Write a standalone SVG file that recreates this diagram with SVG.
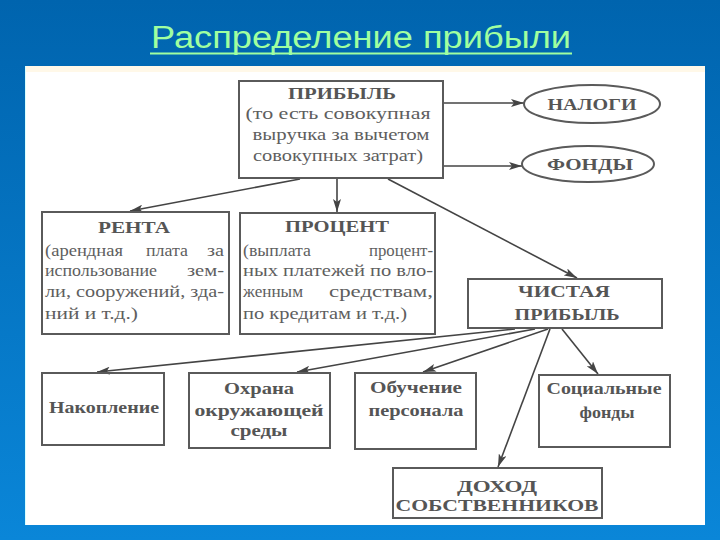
<svg xmlns="http://www.w3.org/2000/svg" width="720" height="540" viewBox="0 0 720 540">
<defs>
<linearGradient id="bg" x1="0" y1="0" x2="0" y2="1">
<stop offset="0" stop-color="#0064AE"/>
<stop offset="1" stop-color="#0A86D8"/>
</linearGradient>
<marker id="ah" markerWidth="13" markerHeight="8" refX="13" refY="4" orient="auto" markerUnits="userSpaceOnUse">
<path d="M0,0 L13,4 L0,8 L3,4 z" fill="#444"/>
</marker>
<style>
.box{fill:none;stroke:#5a5a5a;stroke-width:2}
.el{fill:none;stroke:#5a5a5a;stroke-width:2}
.h{font-family:"Liberation Serif","DejaVu Serif",serif;font-weight:bold;fill:#555;text-anchor:middle;font-size:16px}
.b{font-family:"Liberation Serif","DejaVu Serif",serif;font-weight:bold;fill:#555;text-anchor:middle;font-size:17px}
.t{font-family:"Liberation Serif","DejaVu Serif",serif;fill:#5e5e5e;font-size:16px}
.tm{text-anchor:middle}
.te{text-anchor:end}
.c{fill:none;stroke:#444;stroke-width:1.6;marker-end:url(#ah)}
</style>
</defs>
<rect x="0" y="0" width="720" height="540" fill="url(#bg)"/>
<text x="361" y="48" text-anchor="middle" font-family="Liberation Sans, Arial, sans-serif" font-size="31" fill="#A0FFA0" textLength="420" lengthAdjust="spacingAndGlyphs">Распределение прибыли</text>
<line x1="150" y1="53.5" x2="572" y2="53.5" stroke="#A0FFA0" stroke-width="2"/>
<rect x="25" y="66" width="680" height="459" fill="#FFFFFF"/>
<rect x="25" y="66" width="680" height="6" fill="#FFF8E8"/>
<line x1="25.5" y1="66" x2="25.5" y2="525" stroke="#D8FFFF" stroke-width="1"/>

<g id="connectors">
<line class="c" x1="443" y1="103" x2="524" y2="103"/>
<line class="c" x1="443" y1="166" x2="522" y2="166"/>
<line class="c" x1="300" y1="179" x2="130" y2="211"/>
<line class="c" x1="337" y1="179" x2="337" y2="212"/>
<line class="c" x1="388" y1="179" x2="577" y2="278"/>
<line class="c" x1="515" y1="329" x2="97" y2="372"/>
<line class="c" x1="535" y1="329" x2="297" y2="372"/>
<line class="c" x1="548" y1="329" x2="423" y2="372"/>
<line class="c" x1="550" y1="329" x2="498" y2="467"/>
<line class="c" x1="562" y1="329" x2="598" y2="374"/>
</g>

<g id="pribyl">
<rect class="box" x="239" y="81" width="204" height="97"/>
<text class="h" x="342" y="99" textLength="108" lengthAdjust="spacingAndGlyphs">ПРИБЫЛЬ</text>
<text class="t tm" x="338" y="119" textLength="185" lengthAdjust="spacingAndGlyphs">(то есть совокупная</text>
<text class="t tm" x="341" y="140" textLength="177" lengthAdjust="spacingAndGlyphs">выручка за вычетом</text>
<text class="t tm" x="338" y="161" textLength="170" lengthAdjust="spacingAndGlyphs">совокупных затрат)</text>
</g>

<g id="nalogi">
<ellipse class="el" cx="592" cy="104" rx="68" ry="19"/>
<text class="h" x="592" y="110" textLength="89" lengthAdjust="spacingAndGlyphs">НАЛОГИ</text>
</g>

<g id="fondy">
<ellipse class="el" cx="588" cy="164" rx="66" ry="18"/>
<text class="h" x="590" y="170" textLength="86" lengthAdjust="spacingAndGlyphs">ФОНДЫ</text>
</g>

<g id="renta">
<rect class="box" x="42" y="212" width="187" height="122"/>
<text class="h" x="134" y="233" textLength="72" lengthAdjust="spacingAndGlyphs">РЕНТА</text>
<text class="t" x="45" y="256" textLength="78" lengthAdjust="spacingAndGlyphs">(арендная</text>
<text class="t" x="146" y="256" textLength="42" lengthAdjust="spacingAndGlyphs">плата</text>
<text class="t te" x="224" y="256" textLength="17" lengthAdjust="spacingAndGlyphs">за</text>
<text class="t" x="45" y="276" textLength="112" lengthAdjust="spacingAndGlyphs">использование</text>
<text class="t te" x="224" y="276" textLength="37" lengthAdjust="spacingAndGlyphs">зем-</text>
<text class="t" x="45" y="297" textLength="179" lengthAdjust="spacingAndGlyphs">ли, сооружений, зда-</text>
<text class="t" x="45" y="319" textLength="93" lengthAdjust="spacingAndGlyphs">ний и т.д.)</text>
</g>

<g id="procent">
<rect class="box" x="240" y="213" width="195" height="121"/>
<text class="h" x="337" y="232" textLength="104" lengthAdjust="spacingAndGlyphs">ПРОЦЕНТ</text>
<text class="t" x="243" y="256" textLength="68" lengthAdjust="spacingAndGlyphs">(выплата</text>
<text class="t te" x="433" y="256" textLength="64" lengthAdjust="spacingAndGlyphs">процент-</text>
<text class="t" x="243" y="276" textLength="190" lengthAdjust="spacingAndGlyphs">ных платежей по вло-</text>
<text class="t" x="243" y="297" textLength="60" lengthAdjust="spacingAndGlyphs">женным</text>
<text class="t te" x="433" y="297" textLength="104" lengthAdjust="spacingAndGlyphs">средствам,</text>
<text class="t" x="243" y="319" textLength="164" lengthAdjust="spacingAndGlyphs">по кредитам и т.д.)</text>
</g>

<g id="chistaya">
<rect class="box" x="468" y="279" width="194" height="49"/>
<text class="h" x="564" y="297" textLength="92" lengthAdjust="spacingAndGlyphs">ЧИСТАЯ</text>
<text class="h" x="567" y="320" textLength="105" lengthAdjust="spacingAndGlyphs">ПРИБЫЛЬ</text>
</g>

<g id="nakoplenie">
<rect class="box" x="42" y="373" width="122" height="72"/>
<text class="b" x="104" y="413" textLength="110" lengthAdjust="spacingAndGlyphs">Накопление</text>
</g>

<g id="ohrana">
<rect class="box" x="189" y="373" width="141" height="75"/>
<text class="b" x="259" y="394" textLength="70" lengthAdjust="spacingAndGlyphs">Охрана</text>
<text class="b" x="259" y="416" textLength="129" lengthAdjust="spacingAndGlyphs">окружающей</text>
<text class="b" x="259" y="436" textLength="57" lengthAdjust="spacingAndGlyphs">среды</text>
</g>

<g id="obuchenie">
<rect class="box" x="355" y="373" width="121" height="76"/>
<text class="b" x="416" y="393" textLength="92" lengthAdjust="spacingAndGlyphs">Обучение</text>
<text class="b" x="416" y="416" textLength="95" lengthAdjust="spacingAndGlyphs">персонала</text>
</g>

<g id="socialnye">
<rect class="box" x="539" y="375" width="131" height="72"/>
<text class="b" x="604" y="394" textLength="115" lengthAdjust="spacingAndGlyphs">Социальные</text>
<text class="b" x="607" y="418" textLength="55" lengthAdjust="spacingAndGlyphs">фонды</text>
</g>

<g id="dohod">
<rect class="box" x="393" y="468" width="209" height="50"/>
<text class="b" x="497" y="492" textLength="80" lengthAdjust="spacingAndGlyphs">ДОХОД</text>
<text class="b" x="497" y="511" textLength="203" lengthAdjust="spacingAndGlyphs">СОБСТВЕННИКОВ</text>
</g>
</svg>
